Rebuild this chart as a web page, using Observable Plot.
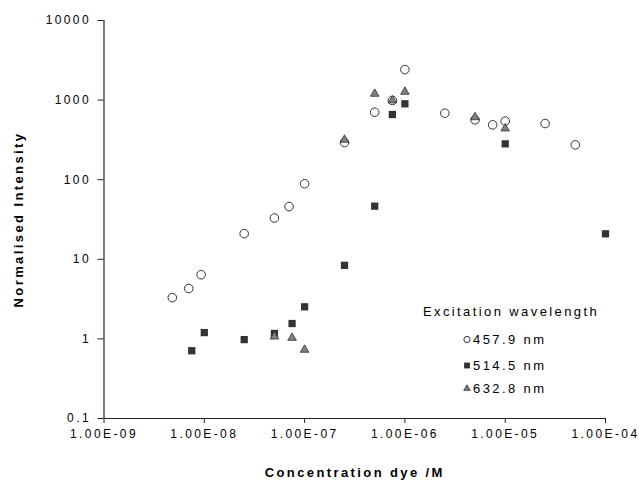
<!DOCTYPE html>
<html>
<head>
<meta charset="utf-8">
<script src="https://cdn.jsdelivr.net/npm/d3@7"></script>
<script src="https://cdn.jsdelivr.net/npm/@observablehq/plot@0.6"></script>
<style>
  html, body { margin: 0; padding: 0; background: #fff; }
  #chart svg { display: block; font-family: "Liberation Sans", Arial, sans-serif; }
  #chart svg text { letter-spacing: 2.4px; }
</style>
</head>
<body>
<div id="chart"></div>
<script>
// Series: 457.9 nm (open circles)
const circX = [4.8e-9, 7e-9, 9.3e-9, 2.5e-8, 5e-8, 7e-8, 1e-7, 2.5e-7, 5e-7, 7.5e-7, 1e-6, 2.5e-6, 5e-6, 7.5e-6, 1e-5, 2.5e-5, 5e-5];
const circY = [3.3, 4.3, 6.4, 21, 33, 46, 89, 293, 705, 990, 2420, 685, 565, 489, 545, 508, 274];
// Series: 514.5 nm (filled squares)
const sqX = [7.5e-9, 1e-8, 2.5e-8, 5e-8, 7.5e-8, 1e-7, 2.5e-7, 5e-7, 7.5e-7, 1e-6, 1e-5, 1e-4];
const sqY = [0.71, 1.2, 0.98, 1.17, 1.56, 2.53, 8.4, 46.5, 659, 898, 282, 20.9];
// Series: 632.8 nm (grey triangles)
const triX = [5e-8, 7.5e-8, 1e-7, 2.5e-7, 5e-7, 7.5e-7, 1e-6, 5e-6, 1e-5];
const triY = [1.07, 1.03, 0.73, 317, 1200, 990, 1271, 610, 440];

const seriesNames = ["457.9 nm", "514.5 nm", "632.8 nm"];
const legendTitle = "Excitation wavelength";

const xTicks = [1e-9, 1e-8, 1e-7, 1e-6, 1e-5, 1e-4];
const xTickLabels = ["1.00E-09", "1.00E-08", "1.00E-07", "1.00E-06", "1.00E-05", "1.00E-04"];
const yTicks = [0.1, 1, 10, 100, 1000, 10000];
const yTickLabels = ["0.1", "1", "10", "100", "1000", "10000"];

const xLabel = "Concentration dye /M";
const yLabel = "Normalised Intensity";

const zip = (xs, ys) => xs.map((x, i) => ({x, y: ys[i]}));
const xLabMap = new Map(xTicks.map((t, i) => [t, xTickLabels[i]]));
const yLabMap = new Map(yTicks.map((t, i) => [t, yTickLabels[i]]));

const axisColor = "#222";
const styles = [
  {symbol: "circle", fill: "white", stroke: "#333", strokeWidth: 1, r: 4.3, lr: 3.1},
  {symbol: "square", fill: "#333", stroke: "none", strokeWidth: 0, r: 4.1, lr: 3.3},
  {symbol: "triangle", fill: "#808080", stroke: "#333", strokeWidth: 0.8, r: 3.2, lr: 2.4}
];
const datasets = [zip(circX, circY), zip(sqX, sqY), zip(triX, triY)];

const legendMarks = [];
legendMarks.push(Plot.text([legendTitle], {
  frameAnchor: "top-left", dx: 407, dy: 291, textAnchor: "middle", lineAnchor: "middle",
  fontSize: 13, fill: "#000"
}));
const legendDy = [319, 345, 368];
seriesNames.forEach((name, i) => {
  const s = styles[i];
  legendMarks.push(Plot.dot([name], {
    frameAnchor: "top-left", dx: 363, dy: legendDy[i],
    symbol: s.symbol, r: s.lr, fill: s.fill, stroke: s.stroke, strokeWidth: s.strokeWidth
  }));
  legendMarks.push(Plot.text([name], {
    frameAnchor: "top-left", dx: 369, dy: legendDy[i], textAnchor: "start", lineAnchor: "middle",
    fontSize: 13, fill: "#000"
  }));
});

const chart = Plot.plot({
  width: 639,
  height: 481,
  marginLeft: 103.5,
  marginRight: 34,
  marginTop: 20,
  marginBottom: 63,
  x: {type: "log", domain: [1e-9, 1e-4]},
  y: {type: "log", domain: [0.1, 10000]},
  marks: [
    Plot.axisX(xTicks, {
      anchor: "bottom", tickSize: 5, tickPadding: 6, fontSize: 12,
      tickFormat: d => xLabMap.get(d), label: null, stroke: axisColor, fill: "#000"
    }),
    Plot.axisY(yTicks, {
      anchor: "left", tickSize: 6, tickPadding: 7, fontSize: 12,
      tickFormat: d => yLabMap.get(d), label: null, stroke: axisColor, fill: "#000"
    }),
    Plot.ruleY([0.1], {stroke: axisColor, strokeWidth: 1.2}),
    Plot.ruleX([1e-9], {stroke: axisColor, strokeWidth: 1.2}),
    Plot.text([xLabel], {frameAnchor: "bottom", dy: 54, lineAnchor: "middle", textAnchor: "middle",
      fontSize: 13, fontWeight: "bold", fill: "#000"}),
    Plot.text([yLabel], {frameAnchor: "left", dx: -85.5, rotate: -90, lineAnchor: "middle", textAnchor: "middle",
      fontSize: 13, fontWeight: "bold", fill: "#000"}),
    ...datasets.map((data, i) => Plot.dot(data, {
      x: "x", y: "y", symbol: styles[i].symbol, r: styles[i].r,
      fill: styles[i].fill, stroke: styles[i].stroke, strokeWidth: styles[i].strokeWidth
    })),
    ...legendMarks
  ]
});
document.getElementById("chart").appendChild(chart);
</script>
</body>
</html>
